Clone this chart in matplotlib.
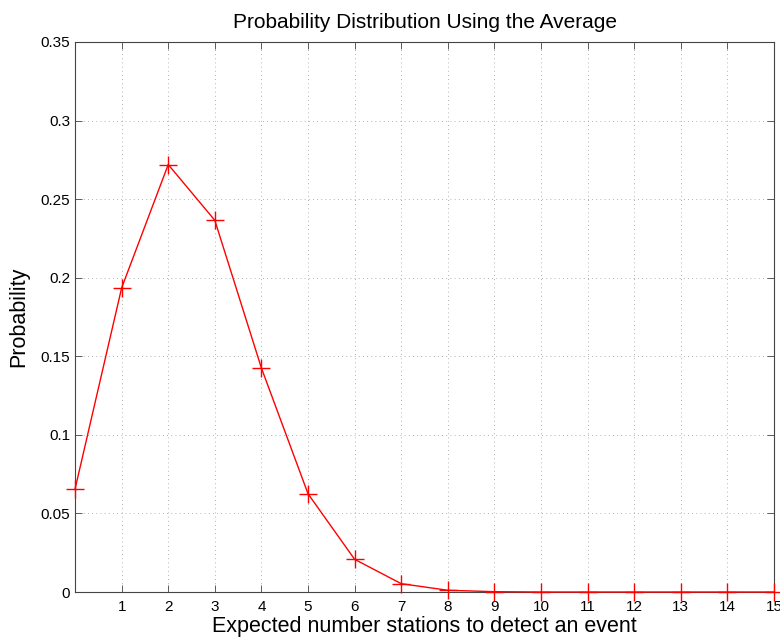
import matplotlib
matplotlib.use("Agg")
import matplotlib.pyplot as plt

# data
stations = list(range(16))
probability = [0.0655, 0.1935, 0.2720, 0.2365, 0.1425, 0.0625, 0.0208, 0.0053,
               0.0011, 0.0002, 0.0, 0.0, 0.0, 0.0, 0.0, 0.0]
x_ticks = list(range(1, 16))
y_ticks = [0, 0.05, 0.1, 0.15, 0.2, 0.25, 0.3, 0.35]
y_tick_labels = ["0", "0.05", "0.1", "0.15", "0.2", "0.25", "0.3", "0.35"]

plt.rcParams['font.family'] = ['Liberation Sans', 'DejaVu Sans']

fig = plt.figure(figsize=(7.8, 6.38), dpi=100)
ax = fig.add_axes([0.0962, 0.0721, 0.8961, 0.8621])

ax.plot(stations, probability, color='#ff0000', linewidth=1.0,
        marker='+', markersize=13, markeredgewidth=1.0, clip_on=False, zorder=3)

ax.set_xlim(0, 15)
ax.set_ylim(0, 0.35)
ax.set_xticks(x_ticks)
ax.set_yticks(y_ticks)
ax.set_yticklabels(y_tick_labels)
ax.tick_params(direction='in', length=5, width=0.6, labelsize=11,
               top=True, right=True, colors='#444444', labelcolor='black')
ax.tick_params(axis='x', pad=6)
for s in ax.spines.values():
    s.set_linewidth(0.8)
    s.set_color('#444444')

ax.grid(True, linestyle=(0, (1, 4)), color='#999999', linewidth=0.6)

ax.set_title("Probability Distribution Using the Average", fontsize=15, pad=10)
ax.set_xlabel("Expected number stations to detect an event", fontsize=15.5, labelpad=1)
ax.set_ylabel("Probability", fontsize=15.5, labelpad=8)

fig.savefig("out.png", dpi=100)
